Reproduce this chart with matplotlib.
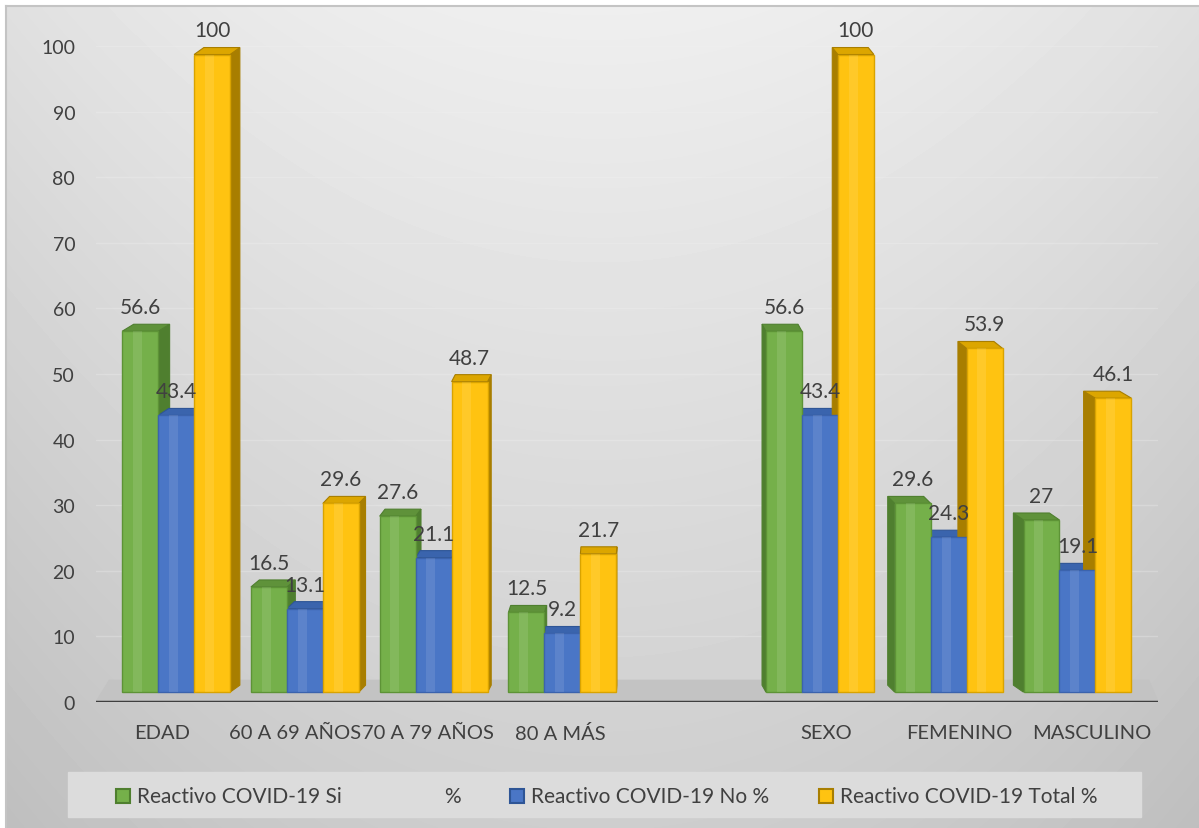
import numpy as np
import matplotlib.pyplot as plt
from matplotlib.patches import Polygon, Rectangle

plt.rcParams['font.family'] = ['Lato', 'DejaVu Sans']

categorias = ['EDAD', '60 A 69 AÑOS', '70 A 79 AÑOS', '80 A MÁS', '', 'SEXO', 'FEMENINO', 'MASCULINO']
si = [56.6, 16.5, 27.6, 12.5, np.nan, 56.6, 29.6, 27]
no = [43.4, 13.1, 21.1, 9.2, np.nan, 43.4, 24.3, 19.1]
total = [100, 29.6, 48.7, 21.7, np.nan, 100, 53.9, 46.1]
etiquetas = ['Reactivo COVID-19 Si', 'Reactivo COVID-19 No %', 'Reactivo COVID-19 Total %']

# colores: frente, lado, tapa, borde
verde = ('#75b04a', '#4f7f2f', '#5f923a', '#5d9336')
azul = ('#4a76c6', '#2e5596', '#3a64ad', '#3b63ad')
amarillo = ('#ffc311', '#a87e00', '#dca600', '#d9a300')
series = [(si, verde), (no, azul), (total, amarillo)]

W, H = 1199, 829
fig = plt.figure(figsize=(W / 100, H / 100), dpi=100)

# fondo con degradado
bg = fig.add_axes([0, 0, 1, 1])
bg.set_xlim(0, W)
bg.set_ylim(H, 0)
bg.axis('off')
yy, xx = np.mgrid[7:H, 6:W]
dx = (xx - 600) / 600.0
dy = (yy - 7) / (H - 7.0)
grad = 0.935 - 0.06 * dx ** 2 - 0.13 * dy
bg.imshow(grad, cmap='gray', vmin=0, vmax=1, extent=(6, W, H, 7), aspect='auto')
bg.plot([6, W], [7, 7], color='#c4c4c4', lw=1.5)
bg.plot([6, 6], [7, H], color='#c4c4c4', lw=1.5)

# caja de la leyenda
bg.add_patch(Rectangle((68, 773), 1141 - 68, 45, color='#dcdcdc', zorder=2))
ley_x = [116, 510, 819]
for k, (vals, col) in enumerate(series):
    bg.add_patch(Rectangle((ley_x[k], 790), 14, 14, facecolor=col[0], edgecolor=col[1], lw=1.5, zorder=3))
    bg.text(ley_x[k] + 21, 797, etiquetas[k], fontsize=15, color='#404040', va='center', ha='left', zorder=3)
bg.text(452, 797, '%', fontsize=15, color='#404040', va='center', ha='center', zorder=3)

ax = fig.add_axes([96 / W, (H - 703) / H, (1158 - 96) / W, (703 - 47) / H])
ax.set_xlim(0, 8)
ax.set_ylim(0, 100)
ax.patch.set_alpha(0)
for s in ax.spines.values():
    s.set_visible(False)

ax.set_yticks(range(0, 101, 10))
ax.set_xticks(np.arange(len(categorias)) + 0.5)
ax.set_xticklabels(categorias)
ax.tick_params(axis='y', length=0, pad=15, labelsize=14, labelcolor='#404040')
ax.tick_params(axis='x', length=0, pad=16, labelsize=14.5, labelcolor='#404040')
ax.grid(axis='y', color='#f2f2f2', lw=1, alpha=0.3)
ax.set_axisbelow(True)

# piso
ax.add_patch(Polygon([(0, 0), (8, 0), (7.93, 3.3), (0.1, 3.3)], closed=True, color='#c3c3c3', zorder=1))
ax.axhline(0, color='#3f3f3f', lw=2.5, zorder=4)

# barras en falsa perspectiva
w = 0.271
base = 1.5
esc = 0.972
vp = (620 - 96) / 132.75
prof_y = 7 / 6.56
for i in range(len(categorias)):
    cx = i + 0.5
    gc = cx - 0.03 * (cx - vp)
    for j, (vals, col) in enumerate(series):
        v = vals[i]
        if np.isnan(v):
            continue
        x0 = gc + (j - 1.5) * w
        xc = x0 + w / 2
        top = base + v * esc
        d = 0.024 * (vp - xc)
        if d > 0:
            lado = [(x0 + w, base), (x0 + w + d, base + prof_y), (x0 + w + d, top + prof_y), (x0 + w, top)]
        else:
            lado = [(x0, base), (x0 + d, base + prof_y), (x0 + d, top + prof_y), (x0, top)]
        tapa = [(x0, top), (x0 + w, top), (x0 + w + d, top + prof_y), (x0 + d, top + prof_y)]
        ax.add_patch(Polygon(lado, closed=True, facecolor=col[1], edgecolor=col[1], lw=0.8, zorder=2, clip_on=False))
        ax.add_patch(Polygon(tapa, closed=True, facecolor=col[2], edgecolor=col[1], lw=0.8, zorder=2, clip_on=False))
        ax.add_patch(Rectangle((x0, base), w, top - base, facecolor=col[0], edgecolor=col[3], lw=1, zorder=3, clip_on=False))
        ax.add_patch(Rectangle((x0 + 0.3 * w, base), 0.25 * w, top - base, facecolor='white', alpha=0.1, lw=0, zorder=3.1, clip_on=False))
        ax.text(xc, top + 2.75, f'{v:g}', ha='center', va='baseline', fontsize=15, color='#404040', zorder=5)

fig.savefig('out.png', dpi=100)
